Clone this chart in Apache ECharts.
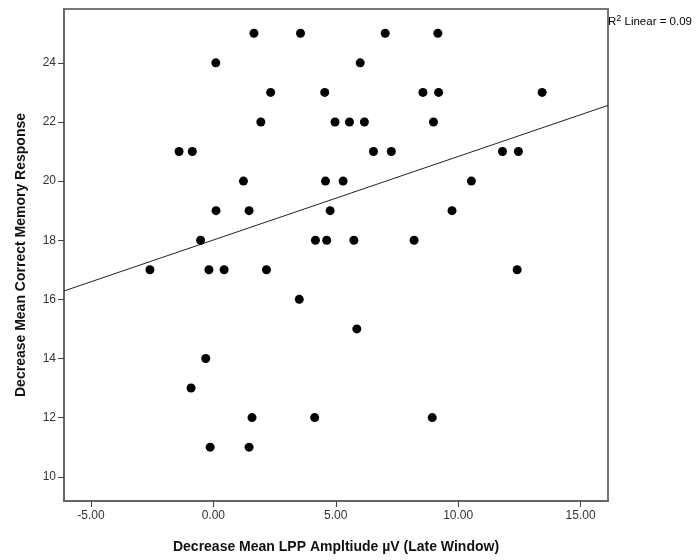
<!DOCTYPE html>
<html>
<head>
<meta charset="utf-8">
<script src="https://cdn.jsdelivr.net/npm/echarts@6/dist/echarts.min.js"></script>
<style>html,body{margin:0;padding:0;background:#fff}#c{width:699px;height:560px}</style>
</head>
<body>
<div id="c"></div>
<script>
// Data
const xValues = [1.66,3.56,7.02,9.17, 0.10,6.00, 2.34,4.55,8.56,9.20,13.43, 1.94,4.97,5.56,6.17,8.99,
  -1.40,-0.86,6.54,7.27,11.81,12.46, 1.23,4.58,5.30,10.54, 0.11,1.46,4.77,9.75,
  -0.52,4.17,4.63,5.74,8.20, -2.59,-0.18,0.44,2.17,12.41, 3.51, 5.86, -0.31, -0.91,
  1.58,4.14,8.94, -0.13,1.46];
const yValues = [25,25,25,25, 24,24, 23,23,23,23,23, 22,22,22,22,22,
  21,21,21,21,21,21, 20,20,20,20, 19,19,19,19,
  18,18,18,18,18, 17,17,17,17,17, 16, 15, 14, 13,
  12,12,12, 11,11];
const xTicks = [-5, 0, 5, 10, 15];
const yTicks = [10, 12, 14, 16, 18, 20, 22, 24];
const xTitle = 'Decrease Mean LPP Ampltiude µV (Late Window)';
const yTitle = 'Decrease Mean Correct Memory Response';
const fitLabel = '{a|R}{s|2}{a| Linear = 0.09}';

const xMin = -6.1, xMax = 16.12, yMin = 9.18, yMax = 25.82;

// least squares fit
const n = xValues.length;
const mx = xValues.reduce((a,b)=>a+b,0)/n;
const my = yValues.reduce((a,b)=>a+b,0)/n;
let sxy=0,sxx=0;
for(let i=0;i<n;i++){sxy+=(xValues[i]-mx)*(yValues[i]-my);sxx+=(xValues[i]-mx)**2;}
const slope = sxy/sxx, intercept = my - slope*mx;
const fitLine = [[xMin, intercept+slope*xMin],[xMax, intercept+slope*xMax]];

const pts = xValues.map((x,i)=>[x,yValues[i]]);
const FONT = '"Liberation Sans", Arial, sans-serif';

const chart = echarts.init(document.getElementById('c'), null, {renderer:'canvas'});
chart.setOption({
  animation:false,
  backgroundColor:'#fff',
  grid:{left:64,top:9,right:91,bottom:59,show:true,borderColor:'#777',borderWidth:2,backgroundColor:'transparent'},
  xAxis:{
    type:'value', min:xMin, max:xMax,
    name:xTitle, nameLocation:'middle', nameGap:39,
    nameTextStyle:{fontFamily:FONT,fontSize:14,fontWeight:'bold',color:'#111'},
    axisLine:{show:true,onZero:false,lineStyle:{color:'#666',width:2}},
    axisTick:{show:true,length:6,customValues:xTicks,lineStyle:{color:'#444',width:1}},
    axisLabel:{customValues:xTicks,fontFamily:FONT,fontSize:12,color:'#333',margin:9,formatter:v=>v.toFixed(2)},
    splitLine:{show:false}
  },
  yAxis:{
    type:'value', min:yMin, max:yMax,
    name:yTitle, nameLocation:'middle', nameGap:36,
    nameTextStyle:{fontFamily:FONT,fontSize:14,fontWeight:'bold',color:'#111'},
    axisLine:{show:true,onZero:false,lineStyle:{color:'#666',width:2}},
    axisTick:{show:true,length:6,customValues:yTicks,lineStyle:{color:'#444',width:1}},
    axisLabel:{customValues:yTicks,fontFamily:FONT,fontSize:12,color:'#333',margin:8},
    splitLine:{show:false}
  },
  graphic:[{type:'text',left:608,top:14,style:{
    text:fitLabel,
    rich:{
      a:{fontFamily:FONT,fontSize:11.5,color:'#111',verticalAlign:'bottom',lineHeight:14},
      s:{fontFamily:FONT,fontSize:9,color:'#111',verticalAlign:'top',lineHeight:14,padding:[0,0,5,0]}
    }
  }}],
  series:[
    {type:'line',data:fitLine,symbol:'none',lineStyle:{color:'#222',width:1},silent:true,z:1},
    {type:'scatter',data:pts,symbol:'circle',symbolSize:9,itemStyle:{color:'#000',opacity:1},z:2}
  ]
});
</script>
</body>
</html>
